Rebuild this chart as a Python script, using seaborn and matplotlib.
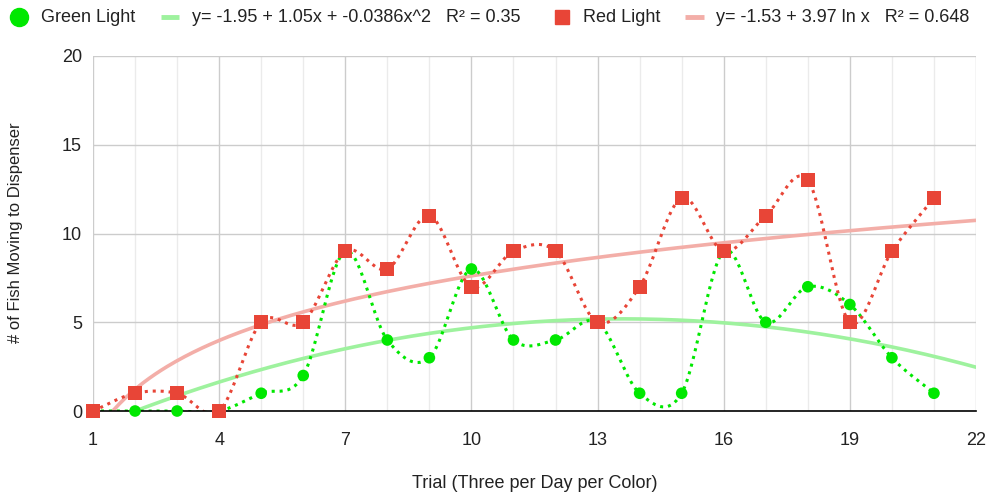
import numpy as np
import pandas as pd
import matplotlib
matplotlib.use("Agg")
import matplotlib.pyplot as plt
from matplotlib.lines import Line2D
import seaborn as sns

# Fish counts per trial
trials = list(range(1, 22))
green_counts = [0, 0, 0, 0, 1, 2, 9, 4, 3, 8, 4, 4, 5, 1, 1, 9, 5, 7, 6, 3, 1]
red_counts = [0, 1, 1, 0, 5, 5, 9, 8, 11, 7, 9, 9, 5, 7, 12, 9, 11, 13, 5, 9, 12]

# Trend line coefficients
green_poly = [-1.95, 1.05, -0.0386]   # a + b x + c x^2
green_r2 = 0.35
red_log = [-1.53, 3.97]               # a + b ln x
red_r2 = 0.648

x_ticks = [1, 4, 7, 10, 13, 16, 19, 22]
y_ticks = [0, 5, 10, 15, 20]

GREEN = "#00e800"
RED = "#e84537"
GREEN_TREND = "#9ef29e"
RED_TREND = "#f3aea8"
TEXT = "#222222"
FS = 13

sns.set_theme(style="white")
plt.rcParams["font.family"] = ["Liberation Sans", "DejaVu Sans"]

W, H = 988, 493
fig = plt.figure(figsize=(W / 100, H / 100), dpi=100)
L, R, T, B = 93, 976, 56, 411
ax = fig.add_axes([L / W, 1 - B / H, (R - L) / W, (B - T) / H])


def smooth(xs, ys, n=24):
    """Catmull-Rom curve through the points, for the smoothed series line."""
    xs = np.asarray(xs, float)
    ys = np.asarray(ys, float)
    m = np.zeros_like(ys)
    m[1:-1] = (ys[2:] - ys[:-2]) / 2.0
    m[0] = ys[1] - ys[0]
    m[-1] = ys[-1] - ys[-2]
    out_x, out_y = [], []
    t = np.linspace(0, 1, n, endpoint=False)
    h00 = 2 * t**3 - 3 * t**2 + 1
    h10 = t**3 - 2 * t**2 + t
    h01 = -2 * t**3 + 3 * t**2
    h11 = t**3 - t**2
    for i in range(len(xs) - 1):
        out_x.extend(xs[i] + t * (xs[i + 1] - xs[i]))
        out_y.extend(h00 * ys[i] + h10 * m[i] + h01 * ys[i + 1] + h11 * m[i + 1])
    out_x.append(xs[-1])
    out_y.append(ys[-1])
    return np.array(out_x), np.array(out_y)


df = pd.DataFrame({"trial": trials, "green": green_counts, "red": red_counts})

# Trend lines across the full x range
xt = np.linspace(1, 22, 300)
trend = pd.DataFrame({
    "x": xt,
    "green": green_poly[0] + green_poly[1] * xt + green_poly[2] * xt**2,
    "red": red_log[0] + red_log[1] * np.log(xt),
})
sns.lineplot(data=trend, x="x", y="green", ax=ax, color=GREEN_TREND, lw=2.6, zorder=2)
sns.lineplot(data=trend, x="x", y="red", ax=ax, color=RED_TREND, lw=2.6, zorder=2)

# Smoothed dotted series lines
for col, color in (("green", GREEN), ("red", RED)):
    sx, sy = smooth(df["trial"], df[col])
    ax.plot(sx, sy, color=color, lw=2.2, dashes=(1.0, 1.6), zorder=3)

sns.scatterplot(data=df, x="trial", y="green", ax=ax, color=GREEN, marker="o",
                s=70, edgecolor="none", zorder=4, clip_on=False)
sns.scatterplot(data=df, x="trial", y="red", ax=ax, color=RED, marker="s",
                s=105, edgecolor="none", zorder=5, clip_on=False)

ax.set_xlim(1, 22)
ax.set_ylim(0, 20)
ax.set_xticks(x_ticks)
ax.set_xticks(range(1, 23), minor=True)
ax.set_yticks(y_ticks)
ax.grid(which="major", color="#cccccc", lw=1.0, zorder=0)
ax.grid(which="minor", axis="x", color="#ebebeb", lw=1.0, zorder=0)
ax.set_axisbelow(True)
for s in ("left", "right", "top"):
    ax.spines[s].set_visible(False)
ax.spines["bottom"].set_color("black")
ax.spines["bottom"].set_linewidth(1.2)
ax.spines["bottom"].set_zorder(3.5)
ax.tick_params(axis="x", which="major", direction="inout", length=8, width=1,
               color="black", labelsize=FS, labelcolor=TEXT, pad=11)
ax.tick_params(axis="x", which="minor", length=0)
ax.tick_params(axis="y", length=0, labelsize=FS, labelcolor=TEXT, pad=8)
ax.set_xlabel("")
ax.set_ylabel("")

fig.text(16 / W, 1 - 233 / H, "# of Fish Moving to Dispenser", rotation=90,
         ha="center", va="center", fontsize=12, color=TEXT)
fig.text(((L + R) / 2) / W, 1 - 483 / H, "Trial (Three per Day per Color)",
         ha="center", va="center", fontsize=FS, color=TEXT)

# Legend row
ly = 1 - 17 / H
fig.add_artist(Line2D([19 / W], [ly], transform=fig.transFigure, marker="o",
                      markersize=13, color=GREEN, lw=0))
fig.text(41 / W, ly, "Green Light", ha="left", va="center", fontsize=FS, color=TEXT)
fig.add_artist(Line2D([161 / W, 179 / W], [ly, ly], transform=fig.transFigure,
                      color=GREEN_TREND, lw=3.5, solid_capstyle="butt"))
fig.text(192 / W, ly,
         f"y= {green_poly[0]} + {green_poly[1]}x + {green_poly[2]}x^2   R² = {green_r2}",
         ha="left", va="center", fontsize=FS, color=TEXT)
fig.add_artist(Line2D([562 / W], [ly], transform=fig.transFigure, marker="s",
                      markersize=9.5, color=RED, lw=0))
fig.text(583 / W, ly, "Red Light", ha="left", va="center", fontsize=FS, color=TEXT)
fig.add_artist(Line2D([685 / W, 704 / W], [ly, ly], transform=fig.transFigure,
                      color=RED_TREND, lw=3.5, solid_capstyle="butt"))
fig.text(716 / W, ly,
         f"y= {red_log[0]} + {red_log[1]} ln x   R² = {red_r2}",
         ha="left", va="center", fontsize=FS, color=TEXT)

fig.savefig("out.png", dpi=100, facecolor="white")
